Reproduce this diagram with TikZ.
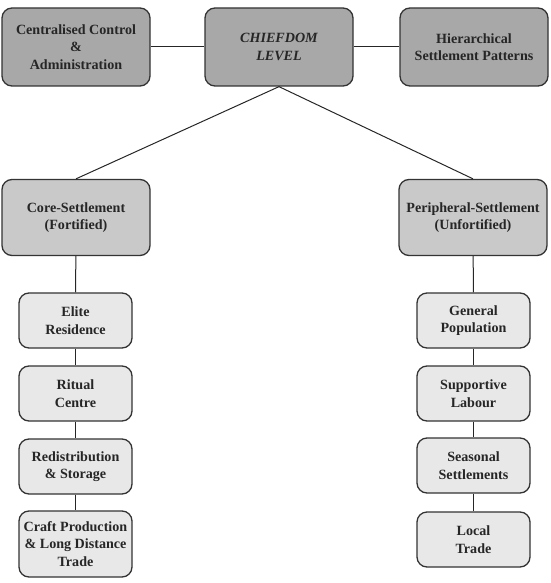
\documentclass[tikz,border=0pt]{standalone}
\usepackage{fontspec}
\setmainfont{Liberation Serif}
\begin{document}
\begin{tikzpicture}[x=1pt,y=-1pt,
  box/.style={draw=black!80, line width=1.3pt, rounded corners=10pt, align=center,
    inner sep=0pt, font=\fontsize{14.1}{17.5}\selectfont\bfseries, text=black!85},
  topbox/.style={box, fill=black!34, minimum width=148pt, minimum height=78pt},
  midbox/.style={box, fill=black!21, minimum width=148pt, minimum height=76pt},
  smallbox/.style={box, fill=black!9, minimum width=113pt, minimum height=55pt},
  link/.style={draw=black!85, line width=1pt}]
\useasboundingbox (0,0) rectangle (550,583);
\node[topbox] (cc) at (76,47) {Centralised Control\\\&\\Administration};
\node[topbox, font=\fontsize{14.1}{17.5}\selectfont\bfseries\itshape] (chief) at (279,47) {CHIEFDOM\\LEVEL};
\node[topbox] (hsp) at (474,47) {Hierarchical\\Settlement Patterns};
\node[midbox] (core) at (76,217.5) {Core-Settlement\\(Fortified)};
\node[midbox] (peri) at (473,217.5) {Peripheral-Settlement\\(Unfortified)};
\node[smallbox] (elite) at (75.5,320.5) {Elite\\Residence};
\node[smallbox] (ritual) at (75.5,393.5) {Ritual\\Centre};
\node[smallbox] (redis) at (75.5,466.5) {Redistribution\\\& Storage};
\node[smallbox, minimum height=66pt] (craft) at (75.5,544) {Craft Production\\\& Long Distance\\Trade};
\node[smallbox] (gen) at (473.5,320.5) {General\\Population};
\node[smallbox] (sup) at (473.5,393.5) {Supportive\\Labour};
\node[smallbox] (sea) at (473.5,465.5) {Seasonal\\Settlements};
\node[smallbox] (loc) at (473.5,539.5) {Local\\Trade};
\draw[link] (cc) -- (chief);
\draw[link] (chief) -- (hsp);
\draw[link] (chief.south) -- (core.north);
\draw[link] (chief.south) -- (peri.north);
\draw[link] (core) -- (elite);
\draw[link] (elite) -- (ritual);
\draw[link] (ritual) -- (redis);
\draw[link] (redis) -- (craft);
\draw[link] (peri) -- (gen);
\draw[link] (gen) -- (sup);
\draw[link] (sup) -- (sea);
\draw[link] (sea) -- (loc);
\end{tikzpicture}
\end{document}
